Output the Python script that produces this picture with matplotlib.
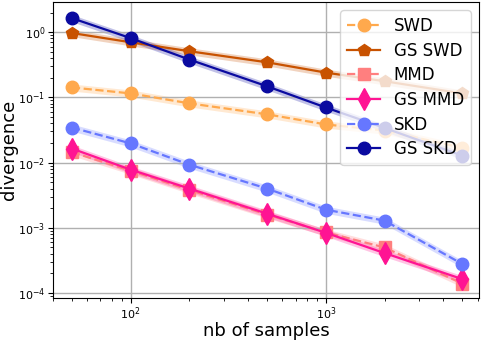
import numpy as np
import matplotlib
matplotlib.use('Agg')
import matplotlib.pyplot as plt

# number of samples
n_samples = [50, 100, 200, 500, 1000, 2000, 5000]

swd = [0.142, 0.115, 0.081, 0.055, 0.0385, 0.031, 0.0169]
gs_swd = [0.97, 0.70, 0.51, 0.345, 0.24, 0.177, 0.115]
mmd = [0.0145, 0.0075, 0.0038, 0.0016, 0.00085, 0.0005, 0.00014]
gs_mmd = [0.0164, 0.0078, 0.0040, 0.00165, 0.00084, 0.00041, 0.000164]
skd = [0.0345, 0.0197, 0.0093, 0.0040, 0.0019, 0.00129, 0.00028]
gs_skd = [1.64, 0.81, 0.38, 0.148, 0.070, 0.034, 0.0128]

series = [
    ('SWD', swd, '#ffa94d', 'o', '--'),
    ('GS SWD', gs_swd, '#c85200', 'p', '-'),
    ('MMD', mmd, '#ff7f7f', 's', '--'),
    ('GS MMD', gs_mmd, '#ff1493', 'd', '-'),
    ('SKD', skd, '#6677ff', 'o', '--'),
    ('GS SKD', gs_skd, '#0a0aa0', 'o', '-'),
]

fig = plt.figure(figsize=(4.82, 3.40), dpi=100)
ax = fig.add_axes([53 / 482, 42 / 340, 426 / 482, 296 / 340])

x = np.array(n_samples)
for label, vals, color, marker, ls in series:
    v = np.array(vals)
    ax.fill_between(x, v * 0.88, v * 1.13, color=color, alpha=0.25, lw=0)
    ms = 11 if marker == 'd' else 9
    ax.plot(x, v, ls=ls, marker=marker, color=color, lw=1.6, ms=ms, label=label)

ax.set_xscale('log')
ax.set_yscale('log')
ax.set_xlim(40, 6100)
ax.set_ylim(8.4e-5, 2.9)
ax.grid(True, which='major', color='#b0b0b0', lw=1)
ax.tick_params(labelsize=8, pad=2)
ax.set_xlabel('nb of samples', fontsize=13, labelpad=0)
ax.set_ylabel('divergence', fontsize=13, labelpad=0)
ax.legend(loc='upper right', fontsize=12, handlelength=2.0, borderpad=0.4,
          labelspacing=0.4)

fig.savefig('out.png', dpi=100)
